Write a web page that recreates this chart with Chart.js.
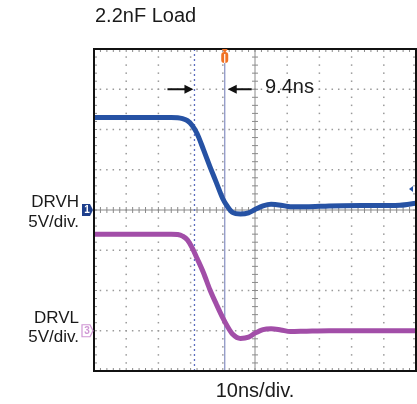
<!DOCTYPE html>
<html>
<head>
<meta charset="utf-8">
<title>2.2nF Load</title>
<script src="https://cdn.jsdelivr.net/npm/chart.js@4.4.1/dist/chart.umd.min.js"></script>
<style>
	html, body { margin: 0; padding: 0; background: #fff; }
	#wrap { position: relative; width: 417px; height: 404px; }
</style>
</head>
<body>
<div id="wrap"><canvas id="scope"></canvas></div>
<script>
// time axis, ns (10 ns/div, 10 divisions)
const timeNs = [0, 10, 20, 24, 26, 27.5, 29, 30.5, 32, 34, 36, 38, 40, 41.5, 43, 45.5, 48, 50, 52.5, 55, 58, 61, 66, 73, 85, 95, 100];
// channel 1 (DRVH), volts
const drvhVolts = [11.5, 11.5, 11.5, 11.5, 11.47, 11.35, 11.1, 10.5, 9.5, 7.5, 5.4, 3.4, 1.4, 0.4, -0.3, -0.5, -0.35, 0.05, 0.5, 0.7, 0.6, 0.4, 0.4, 0.5, 0.55, 0.6, 0.85];
// channel 3 (DRVL), volts
const drvlVolts = [12.0, 12.0, 12.0, 12.0, 11.95, 11.75, 11.3, 10.3, 9.0, 7.2, 5.1, 3.3, 1.6, 0.5, -0.4, -0.95, -0.8, -0.3, 0.15, 0.25, 0.1, -0.1, -0.05, 0, 0, 0, 0];
// cursor positions, ns
const cursorsNs = [31.2, 40.6];
const triggerNs = 40.6;
const triggerLevelVolts = 2.6;

const voltsPerDiv = 5;
const ch1Ground = 4;   // divisions from bottom
const ch3Ground = 1;

const blue = "#2652a4";
const purple = "#a24ea8";
const fontFamily = "'Liberation Sans', Arial, sans-serif";

function toPoints(volts, ground) {
	return timeNs.map((t, i) => ({ x: t, y: ground + volts[i] / voltsPerDiv }));
}

/**
 * Scope graticule: dotted grid, center axes with ticks, cursors.
 */
const graticule = {
	id: "graticule",
	beforeDatasetsDraw(chart) {
		const { ctx, chartArea: a, scales: { x, y } } = chart;
		ctx.save();
		ctx.fillStyle = "#9a9a9a";
		// dots along major lines
		for (let i = 1; i < 10; i++) {
			if (i === 5) continue;
			const px = x.getPixelForValue(i * 10);
			for (let j = 0; j <= 40; j++) {
				ctx.fillRect(px - 0.75, y.getPixelForValue(j / 5) - 0.75, 1.5, 1.5);
			}
		}
		for (let j = 1; j < 8; j++) {
			if (j === 4) continue;
			const py = y.getPixelForValue(j);
			for (let i = 0; i <= 50; i++) {
				ctx.fillRect(x.getPixelForValue(i * 2) - 0.75, py - 0.75, 1.5, 1.5);
			}
		}
		// center axes
		ctx.strokeStyle = "#8a8a8a";
		ctx.lineWidth = 1;
		const cx = x.getPixelForValue(50);
		const cy = y.getPixelForValue(4);
		ctx.beginPath();
		ctx.moveTo(a.left, cy); ctx.lineTo(a.right, cy);
		ctx.moveTo(cx, a.top); ctx.lineTo(cx, a.bottom);
		for (let i = 0; i <= 50; i++) {
			const px = x.getPixelForValue(i * 2);
			ctx.moveTo(px, cy - 3); ctx.lineTo(px, cy + 3);
			ctx.moveTo(px, a.top); ctx.lineTo(px, a.top + 3);
			ctx.moveTo(px, a.bottom); ctx.lineTo(px, a.bottom - 3);
		}
		for (let j = 0; j <= 40; j++) {
			const py = y.getPixelForValue(j / 5);
			ctx.moveTo(cx - 3, py); ctx.lineTo(cx + 3, py);
			ctx.moveTo(a.left, py); ctx.lineTo(a.left + 3, py);
			ctx.moveTo(a.right, py); ctx.lineTo(a.right - 3, py);
		}
		ctx.stroke();
		// cursors
		const c1 = x.getPixelForValue(cursorsNs[0]);
		const c2 = x.getPixelForValue(cursorsNs[1]);
		ctx.strokeStyle = "#5a6cc0";
		ctx.lineWidth = 1.3;
		ctx.setLineDash([2, 3]);
		ctx.beginPath(); ctx.moveTo(c1, a.top); ctx.lineTo(c1, a.bottom); ctx.stroke();
		ctx.setLineDash([]);
		ctx.strokeStyle = "#8e96c6";
		ctx.beginPath(); ctx.moveTo(c2, a.top); ctx.lineTo(c2, a.bottom); ctx.stroke();
		ctx.restore();
	},
	afterDraw(chart) {
		const { ctx, chartArea: a, scales: { x, y } } = chart;
		ctx.save();
		// frame
		ctx.strokeStyle = "#111";
		ctx.lineWidth = 2;
		ctx.strokeRect(a.left, a.top, a.right - a.left, a.bottom - a.top);

		// trigger marker at top
		const tx = x.getPixelForValue(triggerNs);
		ctx.fillStyle = "#f07224";
		ctx.beginPath();
		ctx.moveTo(tx - 3, a.top); ctx.lineTo(tx + 3, a.top); ctx.lineTo(tx, a.top + 4);
		ctx.fill();
		ctx.beginPath();
		ctx.roundRect(tx - 3.5, a.top + 3, 7, 11, 3);
		ctx.fill();
		ctx.strokeStyle = "#fff";
		ctx.lineWidth = 1.2;
		ctx.beginPath(); ctx.moveTo(tx, a.top + 5); ctx.lineTo(tx, a.top + 14); ctx.stroke();

		// trigger level marker on the right
		const ly = y.getPixelForValue(ch1Ground + triggerLevelVolts / voltsPerDiv);
		ctx.fillStyle = blue;
		ctx.beginPath();
		ctx.moveTo(a.right - 7, ly); ctx.lineTo(a.right - 3, ly - 3); ctx.lineTo(a.right - 3, ly + 3);
		ctx.fill();

		// channel ground markers
		const g1 = y.getPixelForValue(ch1Ground);
		const g3 = y.getPixelForValue(ch3Ground);
		ctx.fillStyle = "#1e3f8c";
		ctx.beginPath();
		ctx.moveTo(a.left - 12, g1 - 6); ctx.lineTo(a.left - 4, g1 - 6); ctx.lineTo(a.left - 1, g1);
		ctx.lineTo(a.left - 4, g1 + 6); ctx.lineTo(a.left - 12, g1 + 6); ctx.closePath();
		ctx.fill();
		ctx.strokeStyle = "#cf96d4";
		ctx.lineWidth = 1.2;
		ctx.beginPath();
		ctx.moveTo(a.left - 12, g3 - 6); ctx.lineTo(a.left - 4, g3 - 6); ctx.lineTo(a.left - 1, g3);
		ctx.lineTo(a.left - 4, g3 + 6); ctx.lineTo(a.left - 12, g3 + 6); ctx.closePath();
		ctx.stroke();
		ctx.font = "bold 10px " + fontFamily;
		ctx.textAlign = "center";
		ctx.textBaseline = "middle";
		ctx.fillStyle = "#fff";
		ctx.fillText("1", a.left - 7, g1 + 0.5);
		ctx.fillStyle = "#cf96d4";
		ctx.fillText("3", a.left - 7, g3 + 0.5);

		// measurement arrows
		const ay = y.getPixelForValue(7);
		const c1 = x.getPixelForValue(cursorsNs[0]);
		const c2 = x.getPixelForValue(cursorsNs[1]);
		ctx.strokeStyle = "#111";
		ctx.fillStyle = "#111";
		ctx.lineWidth = 2;
		ctx.beginPath();
		ctx.moveTo(c1 - 27, ay); ctx.lineTo(c1 - 8, ay);
		ctx.moveTo(c2 + 27, ay); ctx.lineTo(c2 + 8, ay);
		ctx.stroke();
		ctx.beginPath();
		ctx.moveTo(c1 - 1, ay); ctx.lineTo(c1 - 10, ay - 4.5); ctx.lineTo(c1 - 10, ay + 4.5); ctx.closePath();
		ctx.moveTo(c2 + 3, ay); ctx.lineTo(c2 + 12, ay - 4.5); ctx.lineTo(c2 + 12, ay + 4.5); ctx.closePath();
		ctx.fill();

		// text
		ctx.fillStyle = "#1a1a1a";
		ctx.textBaseline = "alphabetic";
		ctx.textAlign = "left";
		ctx.font = "20px " + fontFamily;
		ctx.fillText("2.2nF Load", 95, 22);
		ctx.fillText("9.4ns", 265, 93);
		ctx.textAlign = "center";
		ctx.fillText("10ns/div.", x.getPixelForValue(50), 397);
		ctx.textAlign = "right";
		ctx.font = "17px " + fontFamily;
		ctx.fillText("DRVH", 79, 207);
		ctx.fillText("5V/div.", 79, 227);
		ctx.fillText("DRVL", 79, 323);
		ctx.fillText("5V/div.", 79, 342);
		ctx.restore();
	}
};

new Chart(document.getElementById("scope"), {
	type: "line",
	data: {
		datasets: [
			{
				label: "DRVH",
				data: toPoints(drvhVolts, ch1Ground),
				borderColor: blue,
				borderWidth: 5,
				pointRadius: 0,
				cubicInterpolationMode: "monotone"
			},
			{
				label: "DRVL",
				data: toPoints(drvlVolts, ch3Ground),
				borderColor: purple,
				borderWidth: 5,
				pointRadius: 0,
				cubicInterpolationMode: "monotone"
			}
		]
	},
	options: {
		responsive: true,
		maintainAspectRatio: false,
		animation: false,
		layout: { padding: { left: 94, top: 49, right: 1, bottom: 33 } },
		plugins: { legend: { display: false }, tooltip: { enabled: false } },
		scales: {
			x: { type: "linear", min: 0, max: 100, display: false },
			y: { type: "linear", min: 0, max: 8, display: false }
		}
	},
	plugins: [graticule]
});
</script>
</body>
</html>
